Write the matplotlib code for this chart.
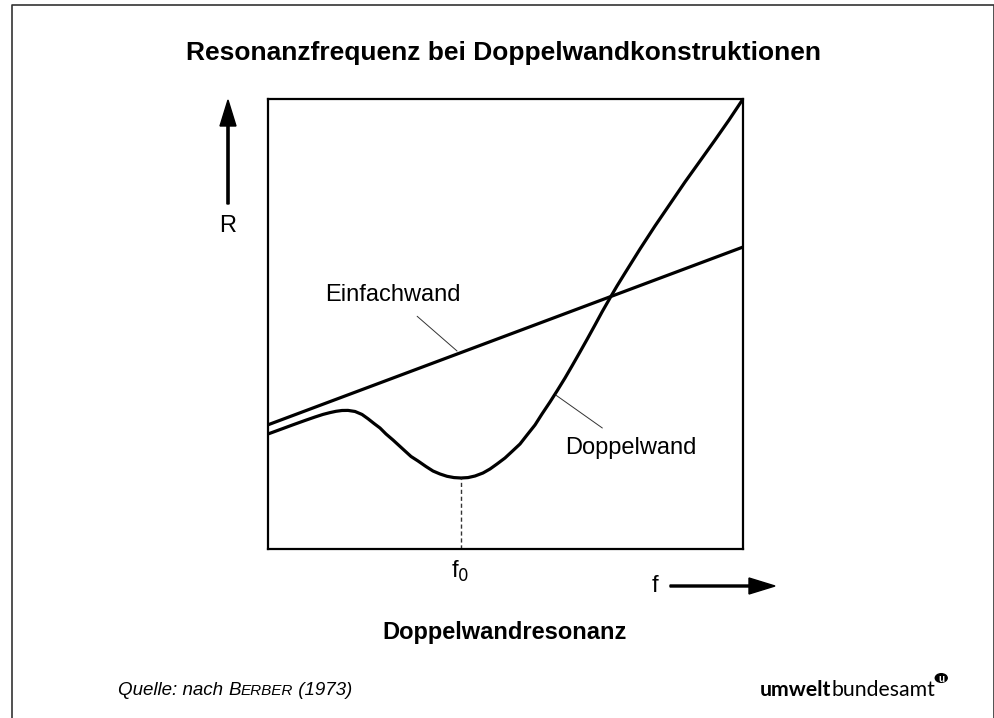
import numpy as np
import matplotlib.pyplot as plt
from matplotlib.lines import Line2D
from matplotlib.patches import Circle, FancyArrow

# schematic values (f on 0..100, R on 0..100)
einfach_f = [0, 100]
einfach_R = [27.6, 67.1]

doppel_f = [0.0, 2.74, 5.26, 7.79, 9.89, 11.58, 13.05, 14.32, 15.58, 16.84, 18.32,
            19.79, 21.05, 22.32, 23.58, 24.84, 26.32, 27.58, 28.84, 30.11, 31.58,
            33.26, 34.74, 36.21, 37.68, 39.16, 40.63, 42.11, 43.58, 45.26, 46.74,
            48.21, 49.89, 51.37, 53.05, 54.53, 56.21, 57.68, 59.37, 60.84, 62.53,
            64.0, 65.68, 67.16, 68.84, 70.32, 72.0, 73.47, 75.16, 78.32, 81.47,
            84.63, 87.79, 90.95, 94.11, 97.05, 100.0]
doppel_R = [25.56, 26.62, 27.6, 28.56, 29.33, 29.91, 30.31, 30.6, 30.78, 30.8, 30.56,
            29.9, 28.95, 27.89, 26.89, 25.56, 24.22, 23.0, 21.78, 20.56, 19.56,
            18.33, 17.33, 16.67, 16.16, 15.87, 15.78, 15.87, 16.22, 16.89, 17.78,
            18.89, 20.22, 21.67, 23.33, 25.33, 27.56, 30.0, 32.67, 35.11, 38.0,
            40.67, 43.78, 46.56, 49.78, 52.67, 55.78, 58.44, 61.33, 66.67, 71.78,
            76.67, 81.56, 86.22, 90.89, 95.33, 100.0]

f0 = 40.63
R_f0 = 15.78

title = "Resonanzfrequenz bei Doppelwandkonstruktionen"
subtitle = "Doppelwandresonanz"

plt.rcParams['font.family'] = ['Liberation Sans', 'DejaVu Sans']

W, H = 995, 718
fig = plt.figure(figsize=(W / 100, H / 100), dpi=100)


def fx(px):
    return px / W


def fy(py):
    return 1 - py / H


# outer frame (open at the bottom)
fig.add_artist(Line2D([fx(12), fx(12), fx(994), fx(994)], [0, fy(5), fy(5), 0],
                      color="#333333", lw=1.2))

ax = fig.add_axes([fx(268), fy(549), (743 - 268) / W, (549 - 99) / H])
ax.set_xlim(0, 100)
ax.set_ylim(0, 100)
ax.set_xticks([])
ax.set_yticks([])
for s in ax.spines.values():
    s.set_linewidth(1.6)

ax.plot(einfach_f, einfach_R, color="black", lw=2.3, solid_capstyle="butt")
ax.plot(doppel_f, doppel_R, color="black", lw=2.3, solid_capstyle="butt",
        solid_joinstyle="round")
ax.plot([f0, f0], [0, R_f0], color="#333333", lw=1.0, ls=(0, (3, 2)))

# labels with pointer lines
ax.annotate("Einfachwand", xy=(39.8, 44.0), xytext=(26.3, 56.4),
            ha="center", va="center", fontsize=17,
            arrowprops=dict(arrowstyle="-", lw=0.7, color="#333333",
                            shrinkA=8, shrinkB=0))
ax.annotate("Doppelwand", xy=(60.6, 34.2), xytext=(76.4, 22.4),
            ha="center", va="center", fontsize=17,
            arrowprops=dict(arrowstyle="-", lw=0.7, color="#333333",
                            shrinkA=8, shrinkB=0))

fig.text(fx(504), fy(53), title, ha="center", va="center", fontsize=19, fontweight="bold")
fig.text(fx(505), fy(632), subtitle, ha="center", va="center", fontsize=17, fontweight="bold")

# axis arrows
fig.add_artist(FancyArrow(fx(228), fy(204), 0, (204 - 100) / H, width=0.0022,
                          head_width=16 / W, head_length=26 / H,
                          length_includes_head=True, color="black",
                          transform=fig.transFigure))
fig.text(fx(228), fy(226), "R", ha="center", va="center", fontsize=17)

fig.add_artist(FancyArrow(fx(670), fy(586), (775 - 670) / W, 0, width=0.0028,
                          head_width=16 / H, head_length=26 / W,
                          length_includes_head=True, color="black",
                          transform=fig.transFigure))
fig.text(fx(655), fy(586), "f", ha="center", va="center", fontsize=17)
fig.text(fx(460), fy(571), "f$_0$", ha="center", va="center", fontsize=17)

# source line with small caps
fig.canvas.draw()
rend = fig.canvas.get_renderer()
x = fx(118)
y = fy(695)
for txt, size in [("Quelle: nach ", 13.5), ("B", 13.5), ("ERBER", 11), (" (1973)", 13.5)]:
    t = fig.text(x, y, txt, ha="left", va="baseline", fontsize=size, style="italic")
    bb = t.get_window_extent(rend)
    x += bb.width / W

# logo text
x = fx(760)
y = fy(696)
for txt, wt in [("umwelt", "bold"), ("bundesamt", "normal")]:
    t = fig.text(x, y, txt, ha="left", va="baseline", fontsize=15.3, fontweight=wt,
                 family=["Lato", "DejaVu Sans"], color="black")
    bb = t.get_window_extent(rend)
    x += bb.width / W
fig.add_artist(Circle((x + 6 / W, fy(678)), 0.006, color="black",
                      transform=fig.transFigure))
fig.text(x + 6 / W, fy(678.5), "u", ha="center", va="center", fontsize=7,
         color="white", fontweight="bold")

fig.savefig("out.png", dpi=100)
